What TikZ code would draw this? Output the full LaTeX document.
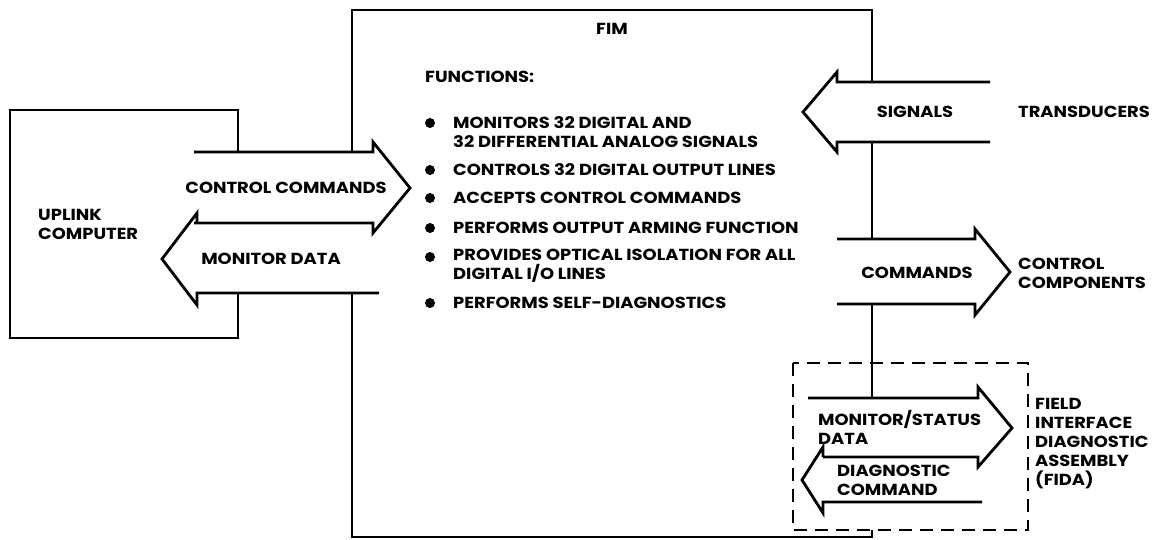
\documentclass[tikz,border=0pt]{standalone}
\usepackage{fontspec}
\setmainfont{Poppins}[FakeStretch=1.12]
\begin{document}
\begin{tikzpicture}[x=1pt,y=-1pt,
  wire/.style={line width=2.8pt,line join=miter,line cap=butt},
  fidabox/.style={line width=2.6pt,dash pattern=on 13pt off 8pt},
  lbl/.style={font=\fontsize{16}{19}\selectfont\bfseries,inner sep=0pt,align=left},
  dot/.style={circle,fill,inner sep=0pt,minimum size=10pt}]
\useasboundingbox (0,0) rectangle (1156,539);

% corner points of the two blocks and of the dashed FIDA outline
\coordinate (uTL) at (10,110);
\coordinate (uBR) at (238,338);
\coordinate (fTL) at (352,10);
\coordinate (fBR) at (872,537);
\coordinate (dTL) at (793,363);
\coordinate (dBR) at (1028,530);

% uplink computer block, open where the data arrows pass
\draw[wire] (238,152) -- (uBR|-uTL) -- (uTL) -- (uTL|-uBR) -- (uBR) -- (238,293);

% FIM block, open where the arrows pass
\draw[wire] (352,152) -- (fTL) -- (fBR|-fTL) -- (872,82);
\draw[wire] (872,142) -- (872,239);
\draw[wire] (872,304) -- (872,398);
\draw[wire] (872,530) -- (fBR) -- (fTL|-fBR) -- (352,293);

% FIDA outline
\draw[fidabox] (dTL) rectangle (dBR);

% block arrows between uplink computer and FIM
\draw[wire] (194,152) -- (373,152) -- (373,142) -- (410,188) -- (373,233) -- (373,223) -- (194,223);
\draw[wire] (379,293) -- (197,293) -- (197,305) -- (162,259) -- (197,213) -- (197,223);

% signals from transducers
\draw[wire] (990,82) -- (837,82) -- (837,72) -- (803,112) -- (837,152) -- (837,142) -- (990,142);
% commands to control components
\draw[wire] (837,239) -- (975,239) -- (975,229) -- (1010,272) -- (975,315) -- (975,304) -- (837,304);
% FIDA arrows
\draw[wire] (808,398) -- (978,398) -- (978,387) -- (1012,428) -- (978,467) -- (978,457) -- (823,457);
\draw[wire] (982,502) -- (823,502) -- (823,513) -- (802,480) -- (823,447) -- (823,457);

% labels
\node[lbl,anchor=west] (uplink) at (38,224) {UPLINK\\COMPUTER};
\node[lbl] (cc) at (286,188) {CONTROL COMMANDS};
\node[lbl] (md) at (271,259) {MONITOR DATA};
\node[lbl] (fim) at (612,29) {FIM};
\node[lbl,anchor=west] (fn) at (425,77) {FUNCTIONS:};

\node[dot] (b1) at (430,123) {};
\node[dot] (b2) at (430,170) {};
\node[dot] (b3) at (430,198) {};
\node[dot] (b4) at (430,228) {};
\node[dot] (b5) at (430,257) {};
\node[dot] (b6) at (430,303) {};
\node[lbl,anchor=west] (f1) at (453,132.5) {MONITORS 32 DIGITAL AND\\32 DIFFERENTIAL ANALOG SIGNALS};
\node[lbl,anchor=west] (f2) at (453,170) {CONTROLS 32 DIGITAL OUTPUT LINES};
\node[lbl,anchor=west] (f3) at (453,198) {ACCEPTS CONTROL COMMANDS};
\node[lbl,anchor=west] (f4) at (453,228) {PERFORMS OUTPUT ARMING FUNCTION};
\node[lbl,anchor=west] (f5) at (453,266) {PROVIDES OPTICAL ISOLATION FOR ALL\\DIGITAL I/O LINES};
\node[lbl,anchor=west] (f6) at (453,303) {PERFORMS SELF-DIAGNOSTICS};

\node[lbl] (sig) at (915,112) {SIGNALS};
\node[lbl,anchor=west] (tr) at (1018,112) {TRANSDUCERS};
\node[lbl] (cmd) at (917,273) {COMMANDS};
\node[lbl,anchor=west] (cc2) at (1018,273) {CONTROL\\COMPONENTS};
\node[lbl,anchor=west] (ms) at (818,427.5) {MONITOR/STATUS\\DATA};
\node[lbl,anchor=west] (dc) at (837,480) {DIAGNOSTIC\\COMMAND};
\node[lbl,anchor=west] (fida) at (1035,443.5) {FIELD\\INTERFACE\\DIAGNOSTIC\\ASSEMBLY\\(FIDA)};
\end{tikzpicture}
\end{document}
